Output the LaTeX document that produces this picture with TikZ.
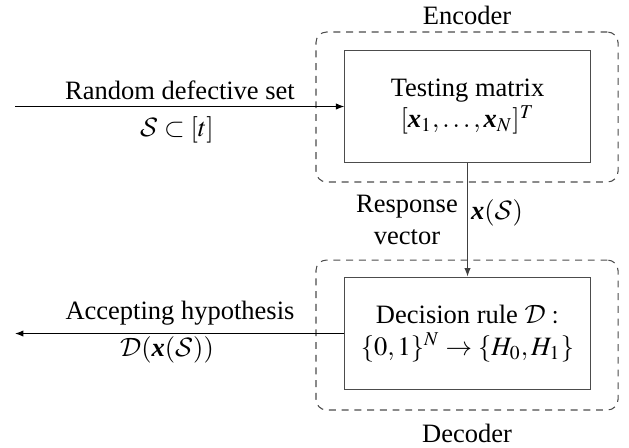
\documentclass[tikz,border=0pt]{standalone}
\usepackage{amsmath}
\usepackage{mathptmx}
\DeclareMathAlphabet{\mathcal}{OMS}{cmsy}{m}{n}
\usepackage[no-math]{fontspec}
\setmainfont{Liberation Serif}
\newcommand{\bx}{\text{\textbf{\textit{x}}}}
\usetikzlibrary{arrows.meta}
\begin{document}
\begin{tikzpicture}[x=0.3774pt,y=-0.3774pt,
  blockbox/.style={draw=black!70,line width=0.4pt,minimum width=92.5pt,minimum height=42.6pt,align=center,inner sep=0pt},
  groupbox/.style={draw=black!70,line width=0.4pt,dash pattern=on 2.6pt off 2.2pt,rounded corners=4pt,minimum width=114pt,minimum height=56.6pt,inner sep=0pt},
  lbl/.style={inner sep=0pt,align=center},
  arr/.style={line width=0.4pt,-{Latex[length=3.2pt,width=2.4pt]}}]
\useasboundingbox (0,0) rectangle (629,447);
\node[groupbox] (enc) at (467,107) {};
\node[groupbox] (dec) at (467,335) {};
\node[blockbox] (test) at (467.5,106.5) {Testing matrix\\$[\bx_1,\ldots,\bx_N]^T$};
\node[blockbox] (rule) at (467.5,333.5) {Decision rule $\mathcal{D}:$\\$\{0,1\}^N\rightarrow\{H_0,H_1\}$};
\node[lbl] (enclbl) at (467,15) {Encoder};
\node[lbl] (declbl) at (467,433) {Decoder};
\coordinate (in1) at (15,106.5);
\coordinate (out1) at (15,333.5);
\draw[arr] (in1) -- (test.west);
\draw[arr] (rule.west) -- (out1);
\draw[arr,draw=black!75] (test.south) -- (rule.north);
\node[lbl] (rds) at (180,90) {Random defective set};
\node[lbl] (sset) at (177,130) {$\mathcal{S}\subset[t]$};
\node[lbl] (acc) at (180,313) {Accepting hypothesis};
\node[lbl] (dx) at (167,350) {$\mathcal{D}(\bx(\mathcal{S}))$};
\node[lbl] (resp) at (407,220) {Response\\vector};
\node[lbl] (xs) at (497,213) {$\bx(\mathcal{S})$};
\end{tikzpicture}
\end{document}
